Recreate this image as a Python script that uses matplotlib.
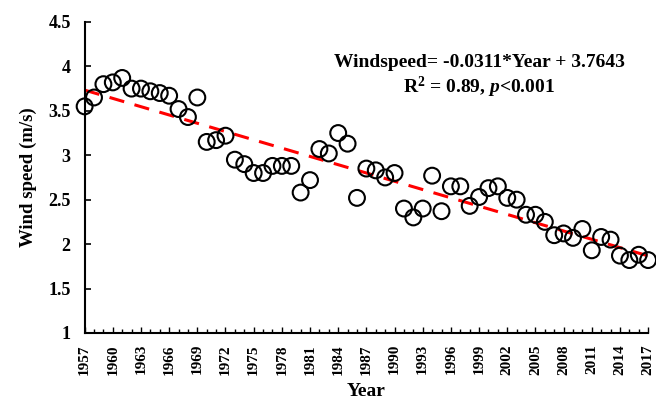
import numpy as np
import matplotlib
matplotlib.use("Agg")
import matplotlib.pyplot as plt

# Annual mean wind speed (m/s)
years = np.arange(1957, 2018)
wind = [3.55, 3.65, 3.80, 3.82, 3.87, 3.75, 3.75, 3.72, 3.70, 3.67,
        3.52, 3.43, 3.65, 3.15, 3.17, 3.22, 2.95, 2.90, 2.80, 2.80,
        2.88, 2.88, 2.88, 2.58, 2.72, 3.07, 3.02, 3.25, 3.13, 2.52,
        2.85, 2.83, 2.75, 2.80, 2.40, 2.30, 2.40, 2.77, 2.37, 2.65,
        2.65, 2.43, 2.53, 2.63, 2.65, 2.52, 2.50, 2.33, 2.33, 2.25,
        2.10, 2.12, 2.07, 2.17, 1.93, 2.08, 2.05, 1.87, 1.82, 1.88,
        1.82]

# Fitted trend (Year counted from 1)
slope = -0.0311
intercept = 3.7643
eq_text = "Windspeed= -0.0311*Year + 3.7643"
stat_text = r"R$^2$ = 0.89, $p$<0.001"

y_ticks = [1, 1.5, 2, 2.5, 3, 3.5, 4, 4.5]
y_labels = ["1", "1.5", "2", "2.5", "3", "3.5", "4", "4.5"]

plt.rcParams['font.family'] = ['Liberation Serif', 'DejaVu Serif']
plt.rcParams['font.weight'] = 'bold'
plt.rcParams['mathtext.fontset'] = 'custom'
plt.rcParams['mathtext.rm'] = 'Liberation Serif:bold'
plt.rcParams['mathtext.it'] = 'Liberation Serif:italic:bold'

fig = plt.figure(figsize=(6.56, 4.07), dpi=100)
ax = fig.add_axes([0.129, 0.182, 0.859, 0.764])

idx = years - years[0] + 1
trend = slope * idx + intercept
ax.plot(years, trend, color='red', linestyle=(0, (5, 3.5)), linewidth=2.2, zorder=2)
ax.scatter(years, wind, s=130, facecolors='none', edgecolors='black',
           linewidths=1.5, zorder=3, clip_on=False)

ax.set_xlim(1957, 2017)
ax.set_ylim(1, 4.5)
ax.set_xticks(np.arange(1957, 2018, 3))
ax.set_xticks(years, minor=True)
ax.set_xticklabels([str(y) for y in range(1957, 2018, 3)], rotation=90,
                   fontsize=11, fontweight='bold')
ax.set_yticks(y_ticks)
ax.set_yticklabels(y_labels, fontsize=13, fontweight='bold')

ax.tick_params(axis='both', which='both', direction='in')
ax.tick_params(axis='y', length=4, width=1.2, pad=10)
ax.tick_params(axis='x', which='major', length=4, width=1, pad=8)
ax.tick_params(axis='x', which='minor', length=3, width=1)

for s in ['top', 'right']:
    ax.spines[s].set_visible(False)
for s in ['left', 'bottom']:
    ax.spines[s].set_linewidth(1.5)

ax.set_xlabel("Year", fontsize=14, fontweight='bold', labelpad=6)
ax.set_ylabel("Wind speed (m/s)", fontsize=13.5, fontweight='bold', labelpad=8)

ax.text(0.70, 0.87, eq_text, transform=ax.transAxes, ha='center', va='center',
        fontsize=14, fontweight='bold')
ax.text(0.70, 0.79, stat_text, transform=ax.transAxes, ha='center', va='center',
        fontsize=14, fontweight='bold')

fig.savefig("out.png", dpi=100)
